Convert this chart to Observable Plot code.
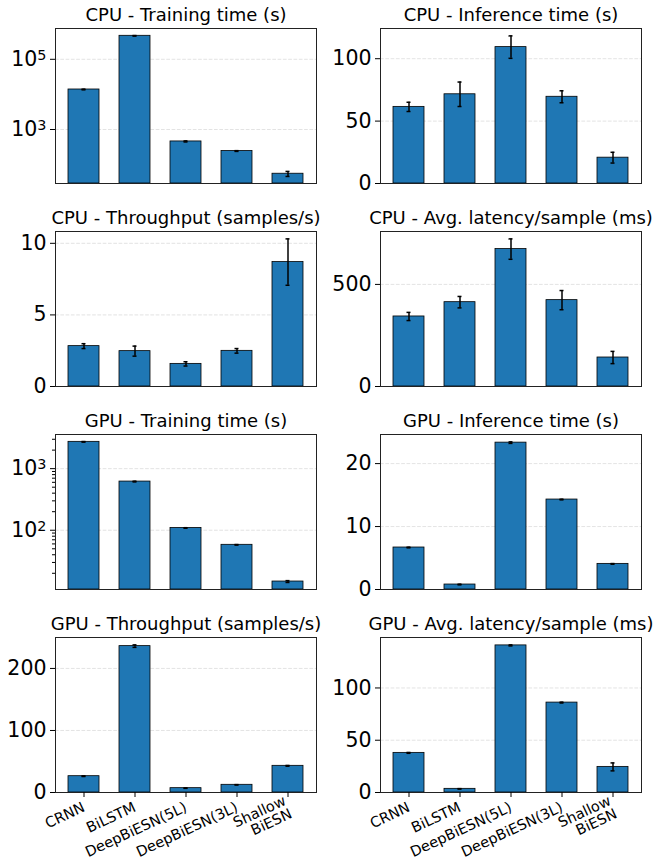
<!DOCTYPE html>
<html><head><meta charset="utf-8">
<script src="https://cdn.jsdelivr.net/npm/d3@7"></script>
<script src="https://cdn.jsdelivr.net/npm/@observablehq/plot@0.6"></script>
<style>
body{margin:0;background:#fff;}
#wrap{position:relative;width:656px;height:861px;font-family:"DejaVu Sans";}
#wrap svg{position:absolute;overflow:visible;}
</style></head><body><div id="wrap"></div>
<script>
const models = ["CRNN", "BiLSTM", "DeepBiESN(5L)", "DeepBiESN(3L)", "Shallow BiESN"];

const cpuTrainMean = [13800, 467000, 457, 244, 55];
const cpuTrainErr  = [300, 8000, 15, 6, 9];
const cpuInferMean = [61.4, 71.5, 109.3, 69.5, 20.7];
const cpuInferErr  = [3.7, 9.8, 9.0, 4.8, 4.3];
const cpuThroughMean = [2.82, 2.47, 1.58, 2.49, 8.69];
const cpuThroughErr  = [0.17, 0.35, 0.15, 0.16, 1.62];
const cpuLatMean = [343, 413, 673, 423, 142];
const cpuLatErr  = [20, 28, 50, 47, 30];
const gpuTrainMean = [2725, 617, 109, 58, 14.7];
const gpuTrainErr  = [30, 8, 1, 0.6, 0.5];
const gpuInferMean = [6.67, 0.79, 23.33, 14.29, 4.07];
const gpuInferErr  = [0.05, 0.05, 0.12, 0.05, 0.05];
const gpuThroughMean = [26.3, 236, 7, 12.4, 43];
const gpuThroughErr  = [0.5, 2, 0.3, 0.3, 0.6];
const gpuLatMean = [37.9, 3.5, 140.7, 86, 24.5];
const gpuLatErr  = [0.4, 0.2, 0.5, 0.4, 3.8];

const titles = [
  "CPU - Training time (s)", "CPU - Inference time (s)",
  "CPU - Throughput (samples/s)", "CPU - Avg. latency/sample (ms)",
  "GPU - Training time (s)", "GPU - Inference time (s)",
  "GPU - Throughput (samples/s)", "GPU - Avg. latency/sample (ms)"
];

const cpuTrainTicks = [1e3, 1e5];
const cpuInferTicks = [0, 50, 100];
const cpuThroughTicks = [0, 5, 10];
const cpuLatTicks = [0, 500];
const gpuTrainTicks = [1e2, 1e3];
const gpuTrainMinor = [20, 30, 40, 50, 60, 70, 80, 90, 200, 300, 400, 500, 600, 700, 800, 900, 2000, 3000];
const gpuInferTicks = [0, 10, 20];
const gpuThroughTicks = [0, 100, 200];
const gpuLatTicks = [0, 50, 100];

const panels = [
  {mean: cpuTrainMean, err: cpuTrainErr, log: true, ticks: cpuTrainTicks, minor: []},
  {mean: cpuInferMean, err: cpuInferErr, log: false, ticks: cpuInferTicks},
  {mean: cpuThroughMean, err: cpuThroughErr, log: false, ticks: cpuThroughTicks},
  {mean: cpuLatMean, err: cpuLatErr, log: false, ticks: cpuLatTicks},
  {mean: gpuTrainMean, err: gpuTrainErr, log: true, ticks: gpuTrainTicks, minor: gpuTrainMinor},
  {mean: gpuInferMean, err: gpuInferErr, log: false, ticks: gpuInferTicks},
  {mean: gpuThroughMean, err: gpuThroughErr, log: false, ticks: gpuThroughTicks},
  {mean: gpuLatMean, err: gpuLatErr, log: false, ticks: gpuLatTicks}
];

const rowTops = [0, 203, 405.5, 608.7];
const wrap = document.getElementById("wrap");

panels.forEach((p, k) => {
  const col = k % 2, row = Math.floor(k / 2);
  const data = models.map((m, i) => ({model: m, v: p.mean[i], e: p.err[i]}));
  const hiV = d3.max(data, d => d.v + d.e);
  const loV = d3.min(data, d => d.v - d.e);
  let domain;
  if (p.log) {
    const lo = Math.log10(loV), hi = Math.log10(hiV), m = 0.05 * (hi - lo);
    domain = [Math.pow(10, lo - m), Math.pow(10, hi + m)];
  } else {
    domain = [0, hiV * 1.05];
  }
  const last = row === 3;
  const marks = [
    Plot.gridY(p.ticks, {stroke: "#b0b0b0", strokeOpacity: 0.45, strokeDasharray: "3.7,1.6", strokeWidth: 0.8}),
    Plot.barY(data, {x: "model", y1: domain[0], y2: "v", fill: "#1f77b4", stroke: "black", strokeWidth: 0.8}),
    Plot.ruleX(data, {x: "model", y1: d => d.v - d.e, y2: d => d.v + d.e, stroke: "black", strokeWidth: 1.5}),
    Plot.tickY(data, {x: "model", y: d => d.v + d.e, insetLeft: 13.5, insetRight: 13.5, stroke: "black", strokeWidth: 1.5}),
    Plot.tickY(data, {x: "model", y: d => d.v - d.e, insetLeft: 13.5, insetRight: 13.5, stroke: "black", strokeWidth: 1.5}),
    Plot.frame({stroke: "#222", strokeWidth: 1}),
    Plot.axisY({ticks: p.ticks, tickSize: 5, tickPadding: 4, fontSize: 20.5, label: null,
      tickFormat: p.log ? (d => "10^" + Math.round(Math.log10(d))) : (d => String(d))}),
    Plot.text([titles[k]], {frameAnchor: "top", text: d => d, dy: -8, lineAnchor: "bottom", fontSize: 18})
  ];
  if (p.minor && p.minor.length) {
    marks.push(Plot.axisY({ticks: p.minor, tickSize: 3, tickFormat: () => "", label: null}));
  }
  if (last) {
    marks.push(Plot.axisX({tickSize: 5, tickFormat: () => "", label: null}));
    marks.push(Plot.axisX({tickSize: 0, tickPadding: 9, tickRotate: -25, fontSize: 14.5, label: null,
      dy: 5, tickFormat: d => d.replace(" ", "\n")}));
  }
  const svg = Plot.plot({
    width: 328,
    height: last ? 252 : 200,
    marginTop: 28,
    marginBottom: last ? 69 : 17,
    marginLeft: col === 0 ? 55 : 52,
    marginRight: col === 0 ? 12 : 15,
    x: {type: "band", domain: models, paddingInner: 0.4, paddingOuter: 0.23, axis: last ? undefined : null},
    y: {type: p.log ? "log" : "linear", domain},
    style: {fontFamily: "DejaVu Sans", fontSize: "18px", color: "black", background: "transparent", overflow: "visible"},
    marks
  });
  // render log tick labels as 10 with a raised exponent
  svg.querySelectorAll("text").forEach(t => {
    const m = /^10\^(\d+)$/.exec(t.textContent);
    if (m) {
      t.textContent = "10";
      const ts = document.createElementNS("http://www.w3.org/2000/svg", "tspan");
      ts.setAttribute("dy", "-0.42em");
      ts.setAttribute("font-size", "0.7em");
      ts.textContent = m[1];
      t.appendChild(ts);
    }
  });
  svg.style.left = (col * 328) + "px";
  svg.style.top = rowTops[row] + "px";
  wrap.appendChild(svg);
});
</script></body></html>
